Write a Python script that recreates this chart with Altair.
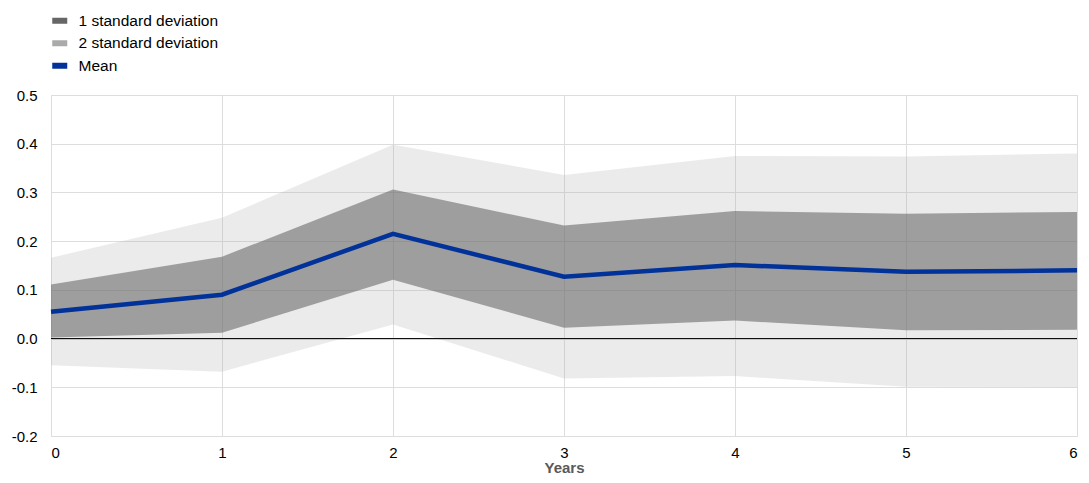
import altair as alt
import pandas as pd

years = [0, 1, 2, 3, 4, 5, 6]
mean = [0.055, 0.090, 0.215, 0.127, 0.151, 0.137, 0.140]
sd1_hi = [0.111, 0.168, 0.306, 0.232, 0.262, 0.256, 0.260]
sd1_lo = [0.002, 0.012, 0.121, 0.022, 0.037, 0.017, 0.018]
sd2_hi = [0.166, 0.248, 0.398, 0.336, 0.375, 0.374, 0.380]
sd2_lo = [-0.055, -0.068, 0.029, -0.082, -0.077, -0.099, -0.100]

names = ["1 standard deviation", "2 standard deviation", "Mean"]
colors = ["#666666", "#aaaaaa", "#003299"]

rows = []
for i, yr in enumerate(years):
    rows.append({"year": yr, "lo": sd2_lo[i], "hi": sd2_hi[i], "series": names[1]})
    rows.append({"year": yr, "lo": sd1_lo[i], "hi": sd1_hi[i], "series": names[0]})
band_df = pd.DataFrame(rows)
mean_df = pd.DataFrame({"year": years, "v": mean, "series": names[2]})

FONT = "Liberation Sans"
color_scale = alt.Scale(domain=names, range=colors)
legend = alt.Legend(
    title=None, orient="none", legendX=1, legendY=-82,
    symbolType="M-1,-0.4H1V0.4H-1Z", symbolSize=225, symbolOpacity=1,
    symbolStrokeWidth=0, labelFontSize=15.5, labelFont=FONT, labelColor="#000000",
    rowPadding=5.5, labelOffset=11,
)

x = alt.X("year:Q", scale=alt.Scale(domain=[0, 6], nice=False),
          axis=alt.Axis(values=years, format="d", title="Years", ticks=False, domain=False,
                        labelPadding=9, labelFontSize=15, labelFont=FONT, labelColor="#000000",
                        titleFont=FONT, titleFontSize=15, titleFontWeight="bold",
                        titleColor="#595959", titlePadding=0,
                        gridColor="#dddddd"))
yaxis = alt.Axis(values=[-0.2, -0.1, 0.0, 0.1, 0.2, 0.3, 0.4, 0.5], title=None, ticks=False,
                 domain=False, labelPadding=14, labelFontSize=15, labelFont=FONT,
                 labelColor="#000000", gridColor="#dddddd",
                 labelExpr="replace(format(datum.value, '.1f'), '\u2212', '-')")
yscale = alt.Scale(domain=[-0.2, 0.5], nice=False)

sd2 = alt.Chart(band_df).transform_filter(alt.datum.series == names[1]).mark_area(opacity=0.24).encode(
    x=x, y=alt.Y("lo:Q", scale=yscale, axis=yaxis), y2="hi:Q",
    color=alt.Color("series:N", scale=color_scale, legend=legend))
sd1 = alt.Chart(band_df).transform_filter(alt.datum.series == names[0]).mark_area(opacity=0.58).encode(
    x="year:Q", y="lo:Q", y2="hi:Q",
    color=alt.Color("series:N", scale=color_scale, legend=legend))
zero = alt.Chart(pd.DataFrame({"z": [0.0]})).mark_rule(color="#000000", strokeWidth=1).encode(y="z:Q")
line = alt.Chart(mean_df).mark_line(strokeWidth=4.5).encode(
    x="year:Q", y="v:Q",
    color=alt.Color("series:N", scale=color_scale, legend=legend))

chart = alt.layer(sd2, sd1, zero, line).properties(
    width=1026, height=341,
    autosize=alt.AutoSizeParams(type="none"),
    padding={"left": 43, "top": 87, "right": 4, "bottom": 39},
).configure_view(stroke=None).configure(background="#ffffff")

chart.save("out.html", embed_options={"renderer": "svg", "actions": False})
